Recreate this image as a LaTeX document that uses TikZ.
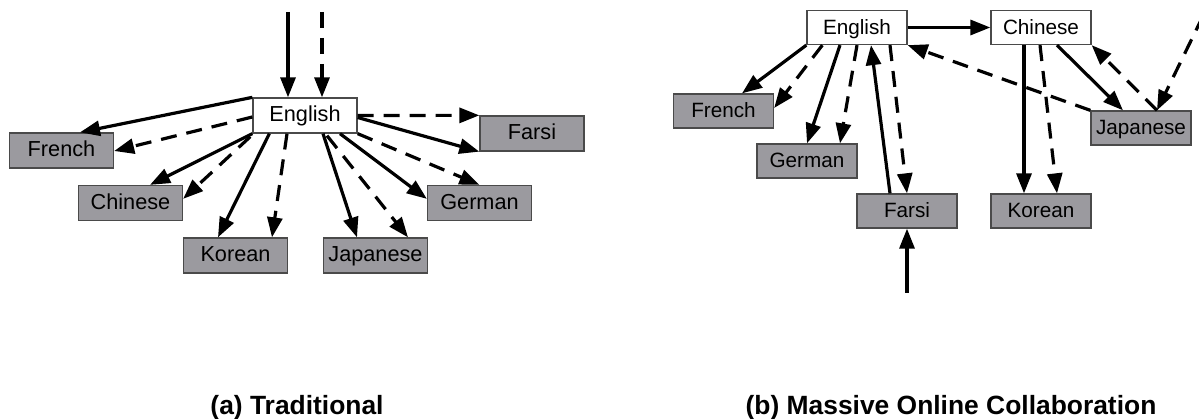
\documentclass[tikz,border=0pt]{standalone}
\usepackage{fontspec}
\setmainfont{Liberation Sans}
\usetikzlibrary{arrows.meta}
\definecolor{boxgray}{HTML}{9B9A9F}
\definecolor{boxline}{HTML}{4A4A4A}
\begin{document}
\begin{tikzpicture}[x=1pt,y=-1pt,
  box/.style={draw=boxline, line width=1.3pt, fill=boxgray, inner sep=0pt,
    text height=16pt, text depth=3pt, font=\fontsize{21.7}{24}\selectfont},
  lbox/.style={box, minimum width=104pt, minimum height=35pt},
  rbox/.style={box, minimum width=100pt, minimum height=34pt,
    font=\fontsize{20.7}{23}\selectfont, text height=15.8pt, text depth=2.6pt},
  srcbox/.style={fill=white},
  arr/.style={line width=3.2pt, -{Triangle[length=20pt,width=15pt]}},
  darr/.style={arr, dash pattern=on 16pt off 10pt},
  captext/.style={font=\bfseries\fontsize{26.4}{30}\selectfont, anchor=base, inner sep=0pt}]
\useasboundingbox (0,0) rectangle (1199,419);

% ---------- (a) Traditional ----------
\node[lbox,srcbox] (LE) at (305,115.5) {English};
\node[lbox] (LFr) at (61.5,150.5) {French};
\node[lbox] (LCh) at (130.5,203) {Chinese};
\node[lbox] (LKo) at (235.5,255.5) {Korean};
\node[lbox] (LJa) at (375.5,255.5) {Japanese};
\node[lbox] (LGe) at (479.5,203) {German};
\node[lbox] (LFa) at (532,133.5) {Farsi};
\coordinate (topA) at (288,12);
\coordinate (topB) at (322,12);

\draw[arr] (topA) -- ([xshift=-17pt]LE.north);
\draw[darr] (topB) -- ([xshift=17pt]LE.north);
\draw[arr] (LE.north west) -- ([xshift=18.5pt]LFr.north);
\draw[darr] ([yshift=-1.5pt]LE.west) -- ([yshift=-0.5pt]LFr.east);
\draw[arr] (LE.south west) -- ([xshift=19.5pt]LCh.north);
\draw[darr] ([xshift=-2pt,yshift=-3pt]LE.south west) -- ([yshift=-14pt]LCh.north east);
\draw[arr] ([xshift=17pt]LE.south west) -- ([xshift=-17.5pt]LKo.north);
\draw[darr] ([xshift=-18pt]LE.south) -- ([xshift=36.5pt]LKo.north);
\draw[arr] ([xshift=18pt]LE.south) -- ([xshift=-18.5pt]LJa.north);
\draw[darr] ([xshift=22pt,yshift=-2pt]LE.south) -- ([xshift=32.5pt]LJa.north);
\draw[arr] ([xshift=35pt]LE.south) -- ([yshift=-14pt]LGe.north west);
\draw[darr] (LE.south east) -- (LGe.north);
\draw[darr] (LE.east) -- (LFa.north west);
\draw[arr] ([yshift=-2pt]LE.east) -- (LFa.south west);

\node[captext] (capA) at (297,414.5) {(a) Traditional};

% ---------- (b) Massive Online Collaboration ----------
\node[rbox,srcbox] (RE) at (857,27.5) {English};
\node[rbox,srcbox] (RCh) at (1041,27.5) {Chinese};
\node[rbox] (RFr) at (723.5,111) {French};
\node[rbox] (RGe) at (807,161) {German};
\node[rbox] (RFa) at (907,211) {Farsi};
\node[rbox] (RKo) at (1041,211) {Korean};
\node[rbox] (RJa) at (1141,128) {Japanese};
\coordinate (botF) at (907,293);
\coordinate (topR) at (1203,16);

\draw[arr] (RE.east) -- (RCh.west);
\draw[arr] (RE.south west) -- ([xshift=18.5pt]RFr.north);
\draw[darr] ([xshift=16pt]RE.south west) -- ([yshift=3pt]RFr.east);
\draw[arr] ([xshift=-17pt]RE.south) -- (RGe.north);
\draw[darr] (RE.south) -- ([xshift=33pt]RGe.north);
\draw[arr] ([xshift=-17pt]RFa.north) -- ([xshift=14pt]RE.south);
\draw[darr] ([xshift=33pt]RE.south) -- (RFa.north);
\draw[arr] (botF) -- (RFa.south);
\draw[arr] ([xshift=-17pt]RCh.south) -- ([xshift=-17pt]RKo.north);
\draw[darr] ([xshift=-1pt]RCh.south) -- ([xshift=16pt]RKo.north);
\draw[arr] ([xshift=16pt]RCh.south) -- ([xshift=-18pt]RJa.north);
\draw[darr] ([xshift=16pt]RJa.north) -- (RCh.south east);
\draw[darr] (RJa.north west) -- (RE.south east);
\draw[darr] (topR) -- ([xshift=16pt]RJa.north);

\node[captext] (capB) at (951,414.5) {(b) Massive Online Collaboration};
\end{tikzpicture}
\end{document}
